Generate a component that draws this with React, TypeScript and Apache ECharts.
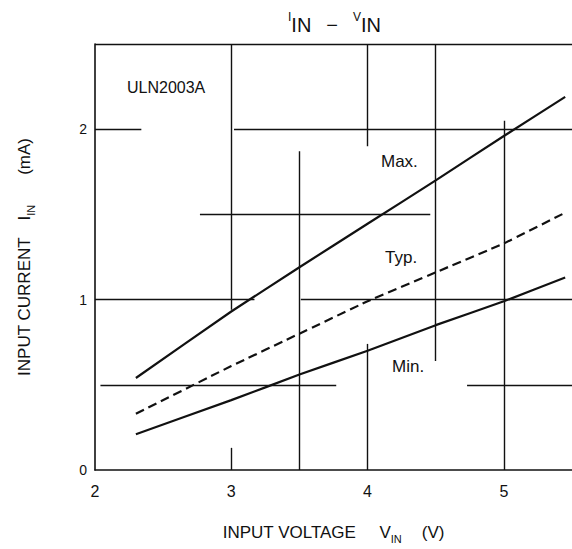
import React, { useEffect, useRef } from "react";
import * as echarts from "echarts";

// Input voltage sample points (V) and input current (mA) for each curve
const inputVoltage = [2.3, 3.0, 3.5, 4.0, 4.5, 5.0, 5.45];
const maxCurrent = [0.54, 0.93, 1.19, 1.445, 1.7, 1.96, 2.19];
const typCurrent = [0.33, 0.61, 0.8, 0.99, 1.16, 1.33, 1.51];
const minCurrent = [0.21, 0.41, 0.56, 0.7, 0.85, 0.99, 1.13];

const xTickLabels = ["2", "3", "4", "5"];
const yTickLabels = ["0", "1", "2"];

// Grid rule segments in data units: [x1, y1, x2, y2]
const gridSegments: [number, number, number, number][] = [
  [2, 2, 2.34, 2],
  [3.02, 2, 5.5, 2],
  [2.77, 1.5, 4.46, 1.5],
  [2, 1, 3.17, 1],
  [3.51, 1, 5.5, 1],
  [2.04, 0.5, 3.77, 0.5],
  [4.73, 0.5, 5.5, 0.5],
  [3, 2.5, 3, 0.94],
  [3, 0.13, 3, 0],
  [3.5, 1.87, 3.5, 0],
  [4, 2.5, 4, 1.9],
  [4, 0.74, 4, 0],
  [4.5, 2.5, 4.5, 0.64],
  [5, 2.05, 5, 0],
  [2, 2.5, 5.5, 2.5],
];

const INK = "#111111";
const FONT = "'Liberation Sans', Arial, sans-serif";

function pairs(ys: number[]) {
  return inputVoltage.map((x, i) => [x, ys[i]]);
}

const nameRich = {
  t: { fontSize: 17, fontFamily: FONT, color: INK, lineHeight: 22, verticalAlign: "bottom" },
  s: { fontSize: 11, fontFamily: FONT, color: INK, lineHeight: 22, verticalAlign: "bottom", padding: [0, 0, -3, 0] },
};

export default function App() {
  const ref = useRef<HTMLDivElement>(null);

  useEffect(() => {
    if (!ref.current) return;
    const chart = echarts.init(ref.current, undefined, { renderer: "svg" });

    const tickFmt = (list: string[]) => (v: number) =>
      list.includes(String(v)) ? String(v) : "";

    chart.setOption({
      animation: false,
      backgroundColor: "#ffffff",
      textStyle: { fontFamily: FONT, color: INK },
      title: {
        text: "{a|I}{b|IN}   {b|−}   {a|V}{b|IN}",
        left: 283,
        top: 6,
        textStyle: {
          fontWeight: "normal",
          rich: {
            a: { fontSize: 12, fontWeight: "normal", fontFamily: FONT, color: INK, verticalAlign: "top", lineHeight: 24 },
            b: { fontSize: 20, fontWeight: "normal", fontFamily: FONT, color: INK, verticalAlign: "bottom", lineHeight: 24 },
          },
        },
      },
      grid: { left: 95, top: 44, right: -3, bottom: 76, containLabel: false },
      xAxis: {
        type: "value",
        min: 2,
        max: 5.5,
        interval: 0.5,
        axisLine: { show: true, lineStyle: { color: INK, width: 1.6 } },
        axisTick: { show: false },
        splitLine: { show: false },
        axisLabel: {
          formatter: tickFmt(xTickLabels),
          color: INK,
          fontSize: 16,
          fontFamily: FONT,
          margin: 13,
          showMaxLabel: false,
        },
        name: "{t|INPUT VOLTAGE}       {t|V}{s|IN}      {t|(V)}",
        nameLocation: "middle",
        nameGap: 49,
        nameTextStyle: { rich: nameRich },
      },
      yAxis: {
        type: "value",
        min: 0,
        max: 2.5,
        interval: 0.5,
        axisLine: { show: true, lineStyle: { color: INK, width: 1.6 } },
        axisTick: { show: false },
        splitLine: { show: false },
        axisLabel: {
          formatter: tickFmt(yTickLabels),
          color: INK,
          fontSize: 14,
          fontFamily: FONT,
          margin: 8,
          showMaxLabel: false,
        },
        name: "{t|INPUT CURRENT}     {t|I}{s|IN}         {t|(mA)}",
        nameLocation: "middle",
        nameGap: 62,
        nameRotate: 90,
        nameTextStyle: { rich: nameRich },
      },
      graphic: [
        { type: "text", left: 127, top: 79, style: { text: "ULN2003A", fill: INK, font: `16px ${FONT}` } },
        { type: "text", left: 381, top: 153, style: { text: "Max.", fill: INK, font: `17px ${FONT}` } },
        { type: "text", left: 385, top: 249, style: { text: "Typ.", fill: INK, font: `17px ${FONT}` } },
        { type: "text", left: 392, top: 358, style: { text: "Min.", fill: INK, font: `17px ${FONT}` } },
      ],
      series: [
        {
          name: "Grid",
          type: "line",
          data: [],
          silent: true,
          markLine: {
            silent: true,
            symbol: ["none", "none"],
            label: { show: false },
            lineStyle: { color: INK, width: 1.4, type: "solid" },
            emphasis: { disabled: true },
            data: gridSegments.map(([x1, y1, x2, y2]) => [
              { coord: [x1, y1] },
              { coord: [x2, y2] },
            ]),
          },
        },
        {
          name: "Max.",
          type: "line",
          data: pairs(maxCurrent),
          showSymbol: false,
          smooth: 0.1,
          lineStyle: { color: INK, width: 2.2 },
        },
        {
          name: "Typ.",
          type: "line",
          data: pairs(typCurrent),
          showSymbol: false,
          smooth: 0.1,
          lineStyle: { color: INK, width: 2.2, type: [9, 5] },
        },
        {
          name: "Min.",
          type: "line",
          data: pairs(minCurrent),
          showSymbol: false,
          smooth: 0.1,
          lineStyle: { color: INK, width: 2.2 },
        },
      ],
    });

    return () => chart.dispose();
  }, []);

  return (
    <div
      ref={ref}
      style={{ position: "absolute", left: 0, top: 0, width: 572, height: 549, background: "#fff" }}
    />
  );
}
